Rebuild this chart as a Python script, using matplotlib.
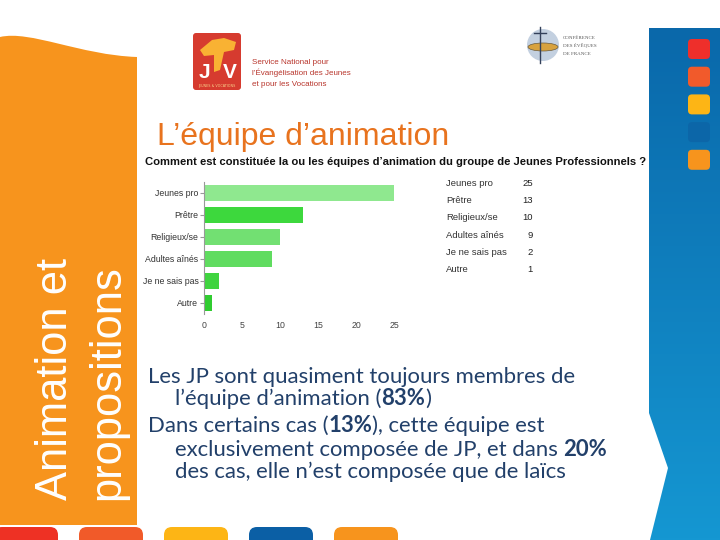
import numpy as np
import matplotlib.pyplot as plt
import matplotlib as mpl
from matplotlib.patches import Polygon, FancyBboxPatch, Circle, Ellipse, PathPatch
from matplotlib.path import Path

# survey data
categories = ["Jeunes pro", "Prêtre", "Religieux/se", "Adultes aînés", "Je ne sais pas", "Autre"]
counts = [25, 13, 10, 9, 2, 1]
bar_colors = ["#8fe88f", "#3dd83d", "#72e072", "#60dc60", "#40d440", "#30cc30"]
xticks = [0, 5, 10, 15, 20, 25]

question = "Comment est constituée la ou les équipes d’animation du groupe de Jeunes Professionnels ?"
slide_title = "L’équipe d’animation"
side_lines = ["Animation et", "propositions"]
body_lines = [
    [("Les JP sont quasiment toujours membres de", False)],
    [("l’équipe d’animation (", False), ("83%", True), (")", False)],
    [("Dans certains cas (", False), ("13%", True), ("), cette équipe est", False)],
    [("exclusivement composée de JP, et dans ", False), ("20%", True)],
    [("des cas, elle n’est composée que de laïcs", False)],
]

W, H = 720, 540
fig = plt.figure(figsize=(7.2, 5.4), dpi=100)
fig.patch.set_facecolor("white")
renderer = fig.canvas.get_renderer()

bg = fig.add_axes([0, 0, 1, 1])
bg.set_xlim(0, W)
bg.set_ylim(H, 0)
bg.axis("off")


def text_width(s, size, **kw):
    t = bg.text(0, 0, s + "|", fontsize=size, **kw)
    w1 = t.get_window_extent(renderer).width
    t.set_text("|")
    w2 = t.get_window_extent(renderer).width
    t.remove()
    return w1 - w2


def fit_size(s, target, **kw):
    return 10 * target / text_width(s, 10, **kw)


# orange side panel with wavy top
verts = [(0, 525), (0, 37), (30, 30), (80, 55), (137, 57), (137, 525), (0, 525)]
codes = [Path.MOVETO, Path.LINETO, Path.CURVE4, Path.CURVE4, Path.CURVE4, Path.LINETO, Path.CLOSEPOLY]
bg.add_patch(PathPatch(Path(verts, codes), facecolor="#f7941d", edgecolor="none"))

side_font = "Liberation Sans"
s_side = fit_size(side_lines[0], 243, family=side_font)
bg.text(67, 500, side_lines[0], rotation=90, rotation_mode="anchor", ha="left", va="baseline",
        fontsize=s_side, color="white", family=side_font)
bg.text(119, 500, side_lines[1], rotation=90, rotation_mode="anchor", ha="left", va="baseline",
        fontsize=s_side, color="white", family=side_font)

# bottom coloured tabs
tab_colors = ["#ee3124", "#f15a29", "#fdb515", "#0b5fa5", "#f7941d"]
for i, c in enumerate(tab_colors):
    bg.add_patch(FancyBboxPatch((-6 + i * 85, 527), 64, 25,
                                boxstyle="round,pad=0,rounding_size=8", facecolor=c, edgecolor="none"))

# blue right panel with chevron
grad = np.linspace(0, 1, 256).reshape(-1, 1)
cmap_blue = mpl.colors.LinearSegmentedColormap.from_list("bl", ["#0a68aa", "#1597d2"])
im = bg.imshow(grad, extent=[649, 720, 540, 28], cmap=cmap_blue, aspect="auto", zorder=1)
clip = Polygon([(649, 28), (720, 28), (720, 540), (650, 540), (668, 468), (649, 413)],
               closed=True, transform=bg.transData, facecolor="none", edgecolor="none")
bg.add_patch(clip)
im.set_clip_path(clip)
bg.set_xlim(0, W)
bg.set_ylim(H, 0)

right_sq = ["#ee2f2b", "#f15a2b", "#fdb515", "#0c66a8", "#f7941d"]
for i, c in enumerate(right_sq):
    bg.add_patch(FancyBboxPatch((688, 39 + i * 27.7), 22, 20,
                                boxstyle="round,pad=0,rounding_size=4", facecolor=c,
                                edgecolor="none", zorder=2))

# JV logo
bg.add_patch(FancyBboxPatch((193, 33), 48, 57, boxstyle="round,pad=0,rounding_size=3",
                            facecolor="#d63b2f", edgecolor="none"))
bg.add_patch(Polygon([(200, 50), (212, 40), (224, 38), (236, 42), (234, 50), (224, 52),
                      (220, 70), (214, 72), (214, 55), (204, 56)], closed=True,
                     facecolor="#f9b233", edgecolor="none"))
bg.text(204, 78, "J", color="white", fontsize=15, fontweight="bold", ha="center", va="baseline",
        family="Liberation Sans")
bg.text(230, 78, "V", color="white", fontsize=15, fontweight="bold", ha="center", va="baseline",
        family="Liberation Sans")
bg.text(217, 86, "JEUNES & VOCATIONS", color="#f9d28a", fontsize=2.4, ha="center", va="center")
for j, line in enumerate(["Service National pour", "l’Évangélisation des Jeunes", "et pour les Vocations"]):
    bg.text(252, 62 + j * 11, line, color="#b8352c", fontsize=5.8, va="center", family="Liberation Sans")

# CEF logo
bg.add_patch(Circle((543, 45), 16, facecolor="#c3d0e0", edgecolor="none"))
bg.add_patch(Ellipse((543, 47), 30, 8, facecolor="#d8a23e", edgecolor="#6b5a3a", linewidth=0.5))
bg.plot([540, 540], [27, 63], color="#33405a", linewidth=1.0)
bg.plot([534, 546], [33, 33], color="#33405a", linewidth=1.0)
for j, line in enumerate(["CONFÉRENCE", "DES ÉVÊQUES", "DE FRANCE"]):
    bg.text(563, 38 + j * 8, line, color="#555555", fontsize=3.6, va="center", family="Liberation Serif")

# slide title
title_font = "Liberation Sans"
bg.text(157, 145, slide_title, color="#e8731e", family=title_font,
        fontsize=fit_size(slide_title, 293, family=title_font), va="baseline")

# chart question
bg.text(145, 162, question, color="#111111", fontweight="bold", family="Liberation Sans",
        fontsize=fit_size(question, 500, family="Liberation Sans", fontweight="bold"), va="center")

# bar chart
ax = fig.add_axes([204 / W, 1 - 314 / H, 190 / W, 132 / H])
ypos = np.arange(len(categories))
ax.barh(ypos, counts, height=0.76, color=bar_colors)
ax.set_xlim(0, 25)
ax.set_ylim(len(categories) - 0.5, -0.5)
ax.set_yticks(ypos)
ax.set_yticklabels(categories, fontsize=6.3, color="#333333", family="Liberation Sans")
ax.set_xticks(xticks)
ax.set_xticklabels([str(v) for v in xticks], fontsize=6.3, color="#444444", family="Liberation Sans")
for sp in ["top", "right", "bottom"]:
    ax.spines[sp].set_visible(False)
ax.spines["left"].set_color("#999999")
ax.spines["left"].set_linewidth(0.8)
ax.tick_params(axis="y", length=3, color="#999999", pad=1)
ax.tick_params(axis="x", length=0, pad=5)
ax.patch.set_alpha(0)

# legend table
for i, (name, v) in enumerate(zip(categories, counts)):
    yy = 183 + i * 17.4
    bg.text(446, yy, name, fontsize=6.8, color="#333333", va="center", family="Liberation Sans")
    bg.text(533, yy, str(v), fontsize=6.8, color="#222222", va="center", ha="right", family="Liberation Sans")

# body text
body_font = "Lato"
body_color = "#22406a"
s_body = fit_size(body_lines[0][0][0], 427, family=body_font)
starts = [(148, 383), (175, 405), (148, 432), (175, 456), (175, 478)]
for (x0, y0), pieces in zip(starts, body_lines):
    x = x0
    for s, bold in pieces:
        w = "bold" if bold else "normal"
        bg.text(x, y0, s, fontsize=s_body, color=body_color, family=body_font, fontweight=w, va="baseline")
        x += text_width(s, s_body, family=body_font, fontweight=w)

fig.savefig("out.png", dpi=100)
